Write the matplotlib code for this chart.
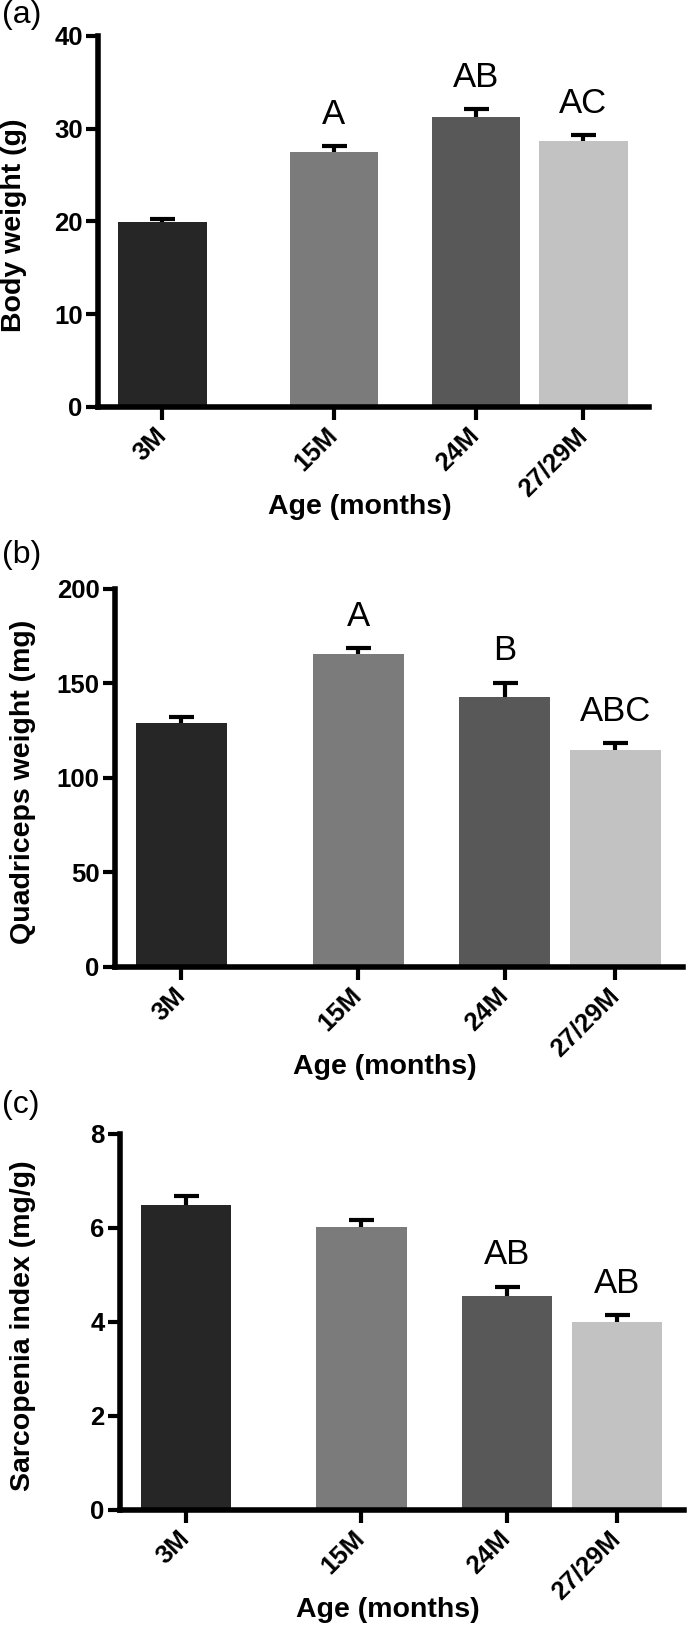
import numpy as np
import matplotlib
matplotlib.use("Agg")
from matplotlib import pyplot as plt

plt.rcParams['font.family'] = ['Liberation Sans', 'DejaVu Sans']

# data
groups = ["3M", "15M", "24M", "27/29M"]

body_weight = [19.9, 27.5, 31.3, 28.7]
body_weight_sem = [0.4, 0.6, 0.8, 0.6]
body_letters = ["", "A", "AB", "AC"]

quad_weight = [128.8, 165.4, 143.0, 114.7]
quad_weight_sem = [3.2, 3.4, 7.4, 3.6]
quad_letters = ["", "A", "B", "ABC"]

sarc_index = [6.48, 6.02, 4.55, 4.00]
sarc_index_sem = [0.19, 0.15, 0.20, 0.15]
sarc_letters = ["", "", "AB", "AB"]

bar_colors = ["#262626", "#7b7b7b", "#585858", "#c2c2c2"]
xpos = [0.117, 0.428, 0.686, 0.881]

panels = [
    # rect, tag, values, sem, letters, ylabel, ymax, yticks, ylabel x, xlabel y
    ([0.142, 0.7511, 0.7986, 0.2269], "(a)", body_weight, body_weight_sem,
     body_letters, "Body weight (g)", 40, [0, 10, 20, 30, 40], -0.152, -0.27),
    ([0.1667, 0.4086, 0.8232, 0.2312], "(b)", quad_weight, quad_weight_sem,
     quad_letters, "Quadriceps weight (mg)", 200, [0, 50, 100, 150, 200], -0.162, -0.265),
    ([0.1739, 0.0765, 0.8174, 0.2300], "(c)", sarc_index, sarc_index_sem,
     sarc_letters, "Sarcopenia index (mg/g)", 8, [0, 2, 4, 6, 8], -0.172, -0.266),
]
tag_y = [1.0, 1 - 540 / 1635, 1 - 1090 / 1635]

fig = plt.figure(figsize=(6.9, 16.35), dpi=100)

for (rect, tag, vals, sem, letters, ylab, ymax, yt, ylx, xly), ty in zip(panels, tag_y):
    ax = fig.add_axes(rect)
    ax.bar(xpos, vals, width=0.16, color=bar_colors, zorder=2)
    # only the upper half of the error bar, like the original
    eb = ax.errorbar(xpos, vals, yerr=[np.zeros(len(vals)), sem], fmt="none",
                     ecolor="black", elinewidth=3, capsize=9, capthick=3,
                     zorder=3, clip_on=False)
    eb[1][0].set_visible(False)
    for x, v, s, t in zip(xpos, vals, sem, letters):
        if t:
            ax.annotate(t, (x, v + s), xytext=(0, 16), textcoords="offset points",
                        ha="center", va="baseline", fontsize=25)
    ax.set_xlim(0, 1)
    ax.set_ylim(0, ymax)
    ax.set_yticks(yt)
    ax.set_xticks(xpos)
    ax.set_xticklabels(groups, rotation=45, ha="right", va="center",
                       rotation_mode="anchor", fontsize=18.5, fontweight="bold")
    for lab in ax.get_yticklabels():
        lab.set_fontsize(18.5)
        lab.set_fontweight("bold")
    ax.spines["top"].set_visible(False)
    ax.spines["right"].set_visible(False)
    ax.spines["left"].set_linewidth(4)
    ax.spines["bottom"].set_linewidth(4)
    ax.tick_params(axis="both", length=9, width=3, color="black")
    ax.tick_params(axis="y", pad=2)
    ax.tick_params(axis="x", pad=9)
    ax.text(ylx, 0.49, ylab, transform=ax.transAxes, rotation=90,
            ha="center", va="center", fontsize=20.5, fontweight="bold")
    ax.text(0.475, xly, "Age (months)", transform=ax.transAxes,
            ha="center", va="center", fontsize=20.5, fontweight="bold")
    fig.text(0.003, ty, tag, ha="left", va="top", fontsize=23)

plt.savefig("out.png", dpi=100)
